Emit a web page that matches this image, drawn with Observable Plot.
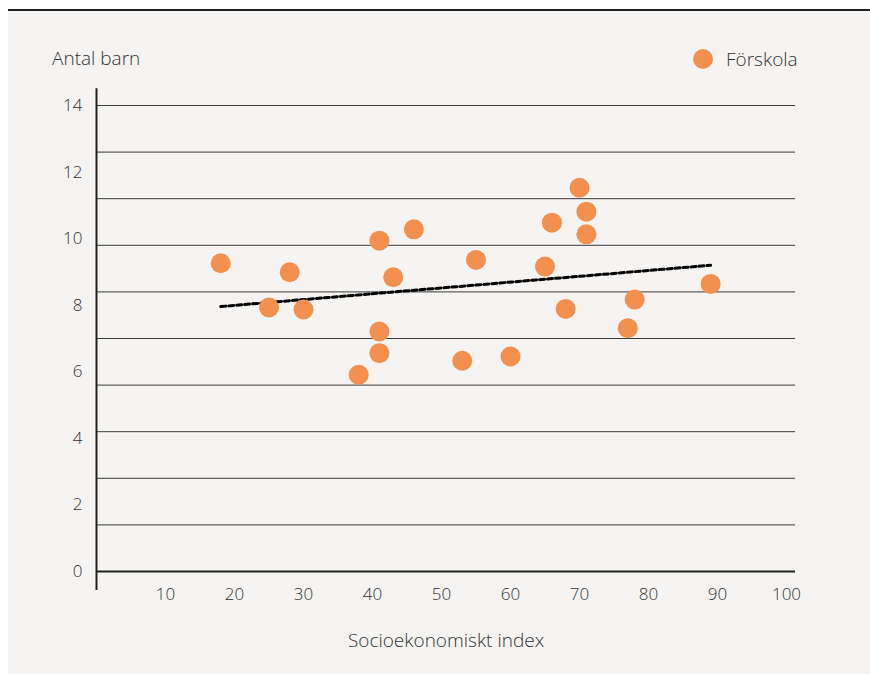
<!DOCTYPE html>
<html>
<head>
<meta charset="utf-8">
<script src="https://cdn.jsdelivr.net/npm/d3@7"></script>
<script src="https://cdn.jsdelivr.net/npm/@observablehq/plot@0.6"></script>
<style>
  html, body { margin: 0; padding: 0; background: #ffffff; }
  body { width: 870px; height: 674px; position: relative; overflow: hidden;
         font-family: "Open Sans", Lato, "Noto Sans", sans-serif; font-weight: 300; color: #333; }
  #panel { position: absolute; left: 8px; top: 9px; width: 862px; height: 665px;
           background: #f5f4f2; border-top: 2px solid #222; }
  #chart { position: absolute; left: 0; top: 0; }
  #ytitle { position: absolute; left: 52px; top: 45px; font-size: 19px; line-height: 26px; }
  #legend { position: absolute; left: 693px; top: 46px; font-size: 19px; line-height: 26px;
            display: flex; align-items: center; }
  #legend .sw { width: 20px; height: 20px; border-radius: 50%; background: #f3904f; margin-right: 13px; }
</style>
</head>
<body>
<div id="panel"></div>
<div id="chart"></div>
<div id="ytitle">Antal barn</div>
<div id="legend"><span class="sw"></span><span>Förskola</span></div>
<script>
// Socioekonomiskt index (x) and Antal barn (y) per förskola
const seIndex = [18, 28, 25, 30, 41, 46, 43, 41, 41, 38, 55, 53, 70, 71, 71, 66, 65, 89, 78, 68, 77, 60];
const antalBarn = [9.26, 8.99, 7.93, 7.87, 9.94, 10.28, 8.84, 7.21, 6.56, 5.91, 9.36, 6.33, 11.53, 10.81, 10.13, 10.48, 9.16, 8.64, 8.17, 7.89, 7.31, 6.46];
// trend line end points
const trendX = [18, 89];
const trendY = [7.96, 9.2];
// axis ticks and grid
const xTicks = [10, 20, 30, 40, 50, 60, 70, 80, 90, 100];
const yTicks = [0, 2, 4, 6, 8, 10, 12, 14];
const gridY = [0, 1.4, 2.8, 4.2, 5.6, 7, 8.4, 9.8, 11.2, 12.6, 14];
const xLabel = "Socioekonomiskt index";

const points = seIndex.map((x, i) => ({x, y: antalBarn[i]}));
const trend = trendX.map((x, i) => ({x, y: trendY[i]}));

const font = "'Open Sans', Lato, 'Noto Sans', sans-serif";

const chart = Plot.plot({
  width: 870,
  height: 674,
  marginLeft: 96,
  marginRight: 75,
  marginTop: 105,
  marginBottom: 103,
  style: { background: "transparent", fontFamily: font, fontSize: "17px", fontWeight: 300, color: "#333", overflow: "visible" },
  x: { domain: [0, 101.3] },
  y: { domain: [0, 14] },
  marks: [
    Plot.ruleY(gridY, { x1: 0, x2: 101.3, stroke: "#3a3a3a", strokeWidth: 1 }),
    Plot.ruleY([0], { x1: 0, x2: 101.3, stroke: "#222", strokeWidth: 2 }),
    Plot.ruleX([0], { y1: -0.57, y2: 14.5, stroke: "#222", strokeWidth: 2, clip: false }),
    Plot.axisY(yTicks, { tickSize: 0, tickPadding: 14, label: null, fontSize: 17, fill: "#333" }),
    Plot.axisX(xTicks, { tickSize: 0, tickPadding: 16, label: null, fontSize: 17, fill: "#333" }),
    Plot.text([xLabel], { frameAnchor: "bottom", dy: 69, fontSize: 19, fill: "#333", lineAnchor: "middle" }),
    Plot.line(trend, { x: "x", y: "y", stroke: "#000", strokeWidth: 3, strokeDasharray: "5,3" }),
    Plot.dot(points, { x: "x", y: "y", r: 10, fill: "#f3904f", stroke: "none" })
  ]
});
document.getElementById("chart").appendChild(chart);
</script>
</body>
</html>
